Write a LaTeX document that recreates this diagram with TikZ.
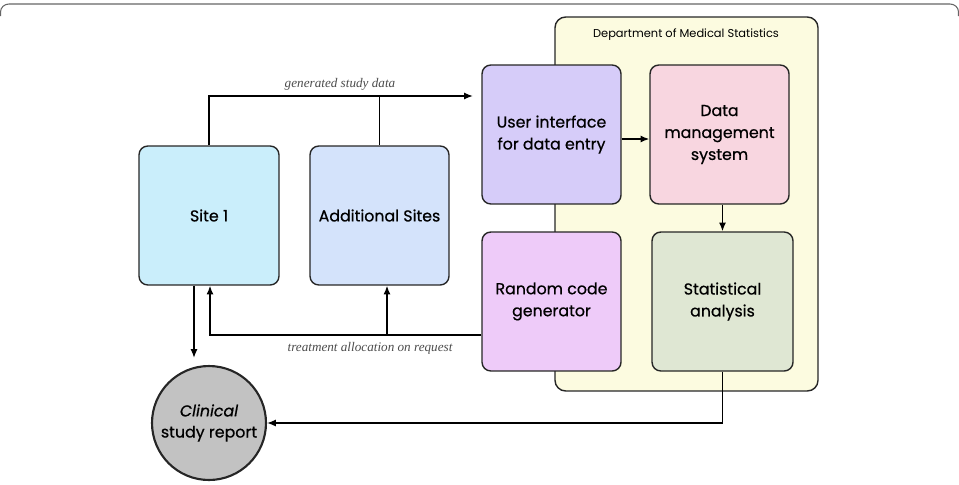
\documentclass[tikz,border=0pt]{standalone}
\usepackage{fontspec}
\setmainfont{Liberation Serif}
\newfontfamily\boxfont{Poppins}[FakeBold=0.6]
\newfontfamily\deptfont{Poppins}
\usetikzlibrary{arrows.meta}
\usetikzlibrary{positioning}
\definecolor{deptbg}{HTML}{FCFBE0}
\definecolor{uibg}{HTML}{D6CCF9}
\definecolor{dmsbg}{HTML}{F8D6E0}
\definecolor{rcgbg}{HTML}{EECBF9}
\definecolor{sabg}{HTML}{DFE7D3}
\definecolor{sitebg}{HTML}{CAEEFB}
\definecolor{addbg}{HTML}{D4E3FB}
\definecolor{csrbg}{HTML}{C2C2C2}
\definecolor{edge}{HTML}{262626}
\tikzset{
unit/.style = {draw=edge, line width=0.8pt, rounded corners=5pt,
               minimum width=2.78cm, minimum height=2.78cm,
               align=center, font=\boxfont\fontsize{9}{12.5}\selectfont},
flow/.style = {draw=black, line width=0.8pt, -{Latex[length=5pt,width=4pt]}},
line/.style = {draw=black, line width=0.8pt},
note/.style = {font=\itshape\fontsize{7.5}{9}\selectfont, text=black!70}
}

\begin{document}
\begin{tikzpicture}[x=0.02cm, y=-0.02cm]
    \useasboundingbox (0,0) rectangle (959,484);
    % outer frame (top part only)
    \draw[black!60, line width=0.6pt] (0.5,16) -- (0.5,12) to[out=90, in=180] (9,4)
        -- (950,4) to[out=0, in=90] (958.5,12) -- (958.5,16);

    % department
    \node[draw=edge, line width=0.8pt, fill=deptbg, rounded corners=6pt,
          minimum width=5.26cm, minimum height=7.48cm] (dept) at (686.5,204) {};
    \node[font=\deptfont\fontsize{6.5}{8}\selectfont] (deptname) at (686,35)
        {Department of Medical Statistics};

    \node[unit, fill=uibg] (ui) at (551.5,134.5) {User interface\\for data entry};
    \node[unit, fill=dmsbg] (dms) at (719.5,134.5) {Data\\management\\system};
    \node[unit, fill=rcgbg] (rcg) at (551.5,301.5) {Random code\\generator};
    \node[unit, fill=sabg, minimum width=2.82cm] (sa) at (722.5,301.5) {Statistical\\analysis};
    \node[unit, fill=sitebg, minimum width=2.8cm] (site) at (209,215.5) {Site 1};
    \node[unit, fill=addbg] (add) at (379.5,215.5) {Additional Sites};
    \node[circle, draw=edge, line width=1.2pt, fill=csrbg, minimum size=2.28cm,
          inner sep=0pt, align=center, font=\boxfont\fontsize{9}{12}\selectfont]
          (csr) at (209,423) {\itshape Clinical\\study report};

    \coordinate (top) at (0,96);
    \coordinate (bot) at (0,335);

    % study data
    \draw[flow, shorten >=6\pgflinewidth] (site.north) |- (top -| ui.west);
    \draw[line] (add.north) -- (add.north |- top);
    \node[note] (gsd) at (340,84) {generated study data};

    \draw[flow] ([yshift=-0.09cm]ui.east) -- ([yshift=-0.09cm]dms.west);
    \draw[flow] (sa.north |- dms.south) -- (sa.north);

    % allocation
    \draw[flow] (bot -| rcg.west) -| ([xshift=0.02cm]site.south);
    \draw[flow] ([xshift=0.15cm]add.south |- bot) -- ([xshift=0.15cm]add.south);
    \node[note] (tar) at (370,348) {treatment allocation on request};

    % report
    \draw[flow, shorten >=4pt] ([xshift=-0.3cm]site.south) -- ([xshift=-0.3cm]site.south |- csr.north);
    \draw[flow] (sa.south) |- (csr.east);
\end{tikzpicture}
\end{document}
